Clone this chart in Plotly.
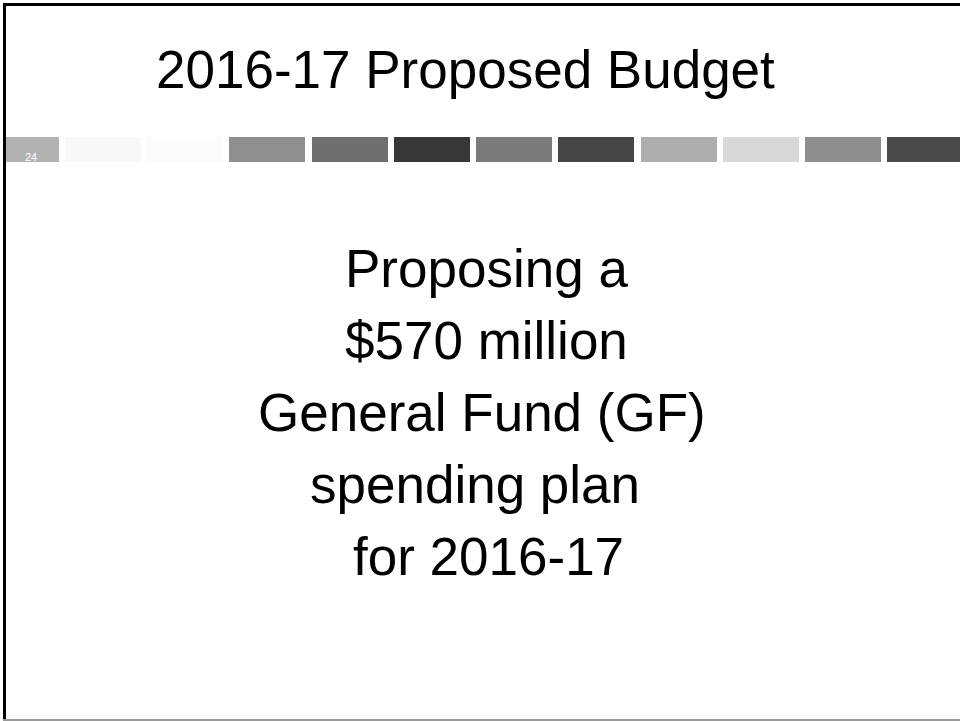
import plotly.graph_objects as go

# Decorative strip of grey blocks (pixel coordinates of the slide)
block_starts = [6, 65, 147, 229, 312, 394, 476, 558, 641, 723, 805, 887]
block_ends = [59, 141, 223, 305, 388, 470, 552, 634, 717, 799, 881, 960]
block_colors = ["#b2b2b2", "#f8f8f8", "#fcfcfc", "#8f8f8f", "#6f6f6f", "#383838",
                "#7a7a7a", "#464646", "#aeaeae", "#d8d8d8", "#8e8e8e", "#4a4a4a"]
strip_top, strip_bottom = 137, 162

title_text = "2016-17 Proposed Budget"
page_number = "24"
body_lines = ["Proposing a", "$570 million", "General Fund (GF)", "spending plan", "for 2016-17"]
body_centers = [486, 486, 482, 475, 488]
body_baselines = [287, 359, 431, 503, 575]

FONT = "Liberation Sans, Arial, sans-serif"
W, H = 960, 721

fig = go.Figure()
fig.add_trace(go.Bar(
    orientation="h",
    y=[(strip_top + strip_bottom) / 2] * len(block_starts),
    x=[e - s for s, e in zip(block_starts, block_ends)],
    base=block_starts,
    width=strip_bottom - strip_top,
    marker=dict(color=block_colors, line=dict(width=0)),
    hoverinfo="skip",
    showlegend=False,
))

fsize = 53
fig.add_annotation(x=465, y=88 - 0.35 * fsize, text=title_text, showarrow=False,
                   xanchor="center", yanchor="middle",
                   font=dict(family=FONT, size=fsize, color="#000000"))
for txt, cx, bl in zip(body_lines, body_centers, body_baselines):
    fig.add_annotation(x=cx, y=bl - 0.35 * fsize, text=txt, showarrow=False,
                       xanchor="center", yanchor="middle",
                       font=dict(family=FONT, size=fsize, color="#000000"))
fig.add_annotation(x=30.5, y=157, text=page_number, showarrow=False,
                   xanchor="center", yanchor="middle",
                   font=dict(family=FONT, size=11, color="#ffffff"))

# slide border
fig.add_shape(type="line", x0=3, x1=960, y0=4.5, y1=4.5, line=dict(color="#000000", width=3))
fig.add_shape(type="line", x0=4.5, x1=4.5, y0=3, y1=721, line=dict(color="#000000", width=3))
fig.add_shape(type="line", x0=3, x1=960, y0=720, y1=720, line=dict(color="#999999", width=2))

fig.update_layout(
    width=W, height=H,
    margin=dict(l=0, r=0, t=0, b=0),
    paper_bgcolor="#ffffff", plot_bgcolor="#ffffff",
    xaxis=dict(range=[0, W], visible=False, fixedrange=True),
    yaxis=dict(range=[H, 0], visible=False, fixedrange=True),
    barmode="overlay",
    bargap=0,
)
fig.write_html(
    "out.html",
    config={"displayModeBar": False},
    post_script="document.body.style.margin='0';document.body.style.overflow='hidden';",
)
